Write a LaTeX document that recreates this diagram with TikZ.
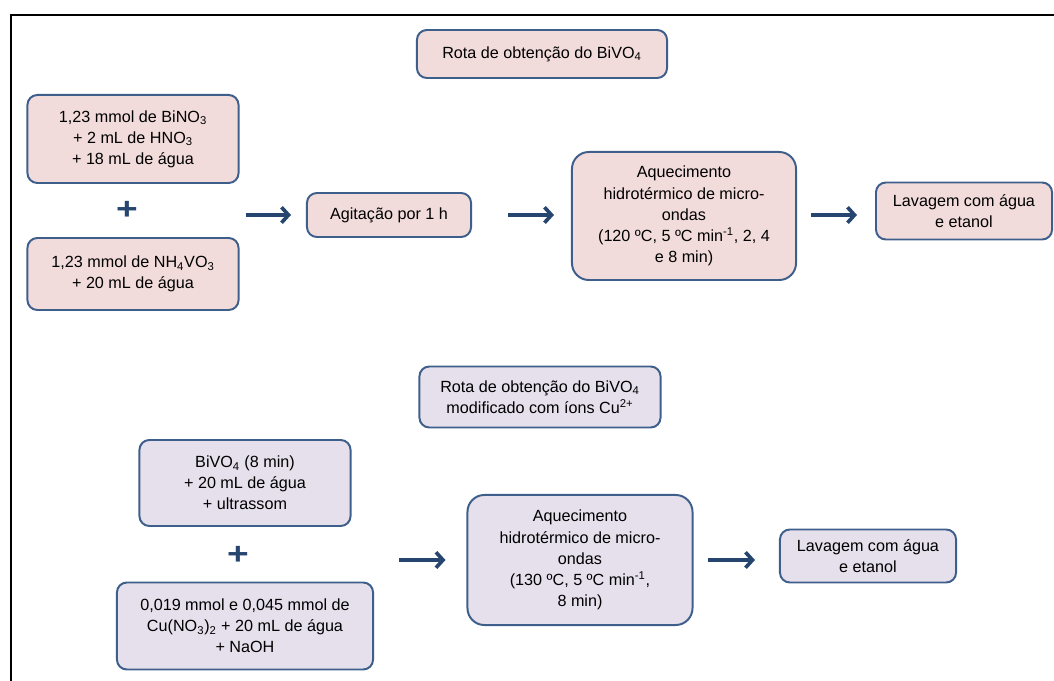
\documentclass[tikz,border=0pt]{standalone}
\usepackage{fontspec}
\setmainfont{Liberation Sans}
\usetikzlibrary{arrows.meta}

\definecolor{boxline}{HTML}{3E5F8C}
\definecolor{pinkfill}{HTML}{F2DCDB}
\definecolor{lilacfill}{HTML}{E6E0EC}
\definecolor{arrowblue}{HTML}{27466F}

\tikzset{
    stagebox/.style={draw=boxline, line width=1.4pt, rounded corners=7pt,
        align=center, inner sep=2pt, font=\fontsize{11.5}{15}\selectfont},
    bigbox/.style={stagebox, rounded corners=12pt},
    pinkbox/.style={fill=pinkfill},
    lilacbox/.style={fill=lilacfill},
    flow/.style={draw=arrowblue, line width=2.6pt, -{Straight Barb[length=5pt,width=11pt]}},
    plussign/.style={text=arrowblue, xscale=1.2, font=\fontsize{22}{22}\bfseries}
}

\begin{document}
\begin{tikzpicture}[x=0.025cm, y=-0.025cm]
        \useasboundingbox (0,0) rectangle (1054,681);
        \draw[line width=2.1pt] (11,681) -- (11,15) -- (1054,15);

        % rota 1
        \node[stagebox, pinkbox, minimum width=6.25cm, minimum height=1.2cm] (titleA) at (542, 54) {Rota de obtenção do BiVO\textsubscript{4}};
        \node[stagebox, pinkbox, minimum width=5.275cm, minimum height=2.2cm] (bino) at (133, 139) {1,23 mmol de BiNO\textsubscript{3}\\+ 2 mL de HNO\textsubscript{3}\\+ 18 mL de água};
        \node[plussign] (plusA) at (127, 210) {+};
        \node[stagebox, pinkbox, minimum width=5.275cm, minimum height=1.8cm] (nhvo) at (133, 274) {1,23 mmol de NH\textsubscript{4}VO\textsubscript{3}\\+ 20 mL de água};
        \node[stagebox, pinkbox, minimum width=4.1cm, minimum height=1.1cm] (agit) at (389, 215) {Agitação por 1 h};
        \node[bigbox, pinkbox, minimum width=5.6cm, minimum height=3.2cm] (heatA) at (684, 216) {Aquecimento\\hidrotérmico de micro-\\ondas\\(120 ºC, 5 ºC min\textsuperscript{-1}, 2, 4\\e 8 min)};
        \node[stagebox, pinkbox, minimum width=4.4cm, minimum height=1.425cm] (washA) at (964, 211) {Lavagem com água\\e etanol};

        \draw[flow, shorten <=0.15cm, shorten >=0.375cm] (bino.east |- agit.west) -- (agit.west);
        \draw[flow, shorten <=0.9cm, shorten >=0.425cm] (agit.east) -- (heatA.west |- agit.east);
        \draw[flow, shorten <=0.35cm, shorten >=0.45cm] (heatA.east |- agit.east) -- (washA.west |- agit.east);

        % rota 2
        \node[stagebox, lilacbox, minimum width=6.025cm, minimum height=1.525cm] (titleB) at (540, 397) {Rota de obtenção do BiVO\textsubscript{4}\\modificado com íons Cu\textsuperscript{2+}};
        \node[stagebox, lilacbox, minimum width=5.275cm, minimum height=2.15cm] (bivo) at (245, 483) {BiVO\textsubscript{4} (8 min)\\+ 20 mL de água\\+ ultrassom};
        \node[plussign] (plusB) at (238, 555) {+};
        \node[stagebox, lilacbox, minimum width=6.4cm, minimum height=2.175cm] (cuno) at (245, 626) {0,019 mmol e 0,045 mmol de\\Cu(NO\textsubscript{3})\textsubscript{2} + 20 mL de água\\+ NaOH};
        \node[bigbox, lilacbox, minimum width=5.625cm, minimum height=3.25cm] (heatB) at (580, 560) {Aquecimento\\hidrotérmico de micro-\\ondas\\(130 ºC, 5 ºC min\textsuperscript{-1},\\8 min)};
        \node[stagebox, lilacbox, minimum width=4.4cm, minimum height=1.325cm] (washB) at (868, 556) {Lavagem com água\\e etanol};

        \draw[flow, shorten <=0.625cm, shorten >=0.525cm] (cuno.east |- heatB.west) -- (heatB.west);
        \draw[flow, shorten <=0.35cm, shorten >=0.6cm] (heatB.east) -- (washB.west |- heatB.east);
\end{tikzpicture}
\end{document}
